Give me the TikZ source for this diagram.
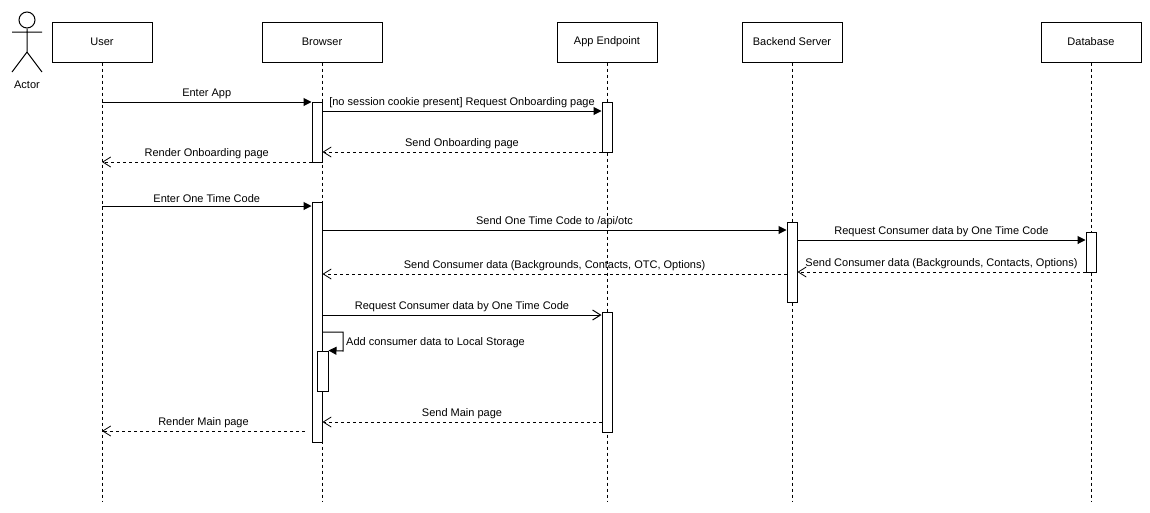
\documentclass[tikz,border=0pt]{standalone}
\usepackage{fontspec}
\setmainfont{Liberation Sans}
\usetikzlibrary{arrows.meta}

\tikzset{
  party/.style={draw,fill=white,line width=1pt,minimum height=40pt,inner sep=0pt},
  bar/.style={draw,fill=white,line width=1pt,minimum width=10pt,inner sep=0pt},
  lifeline/.style={line width=1pt,dash pattern=on 3pt off 3pt},
  call/.style={line width=1pt,-{Triangle[length=8pt,width=8pt]}},
  opencall/.style={line width=1pt,-{Straight Barb[length=8pt,width=10pt]}},
  reply/.style={line width=1pt,dash pattern=on 3pt off 3pt,-{Straight Barb[length=8pt,width=10pt,line width=.8pt]}},
  lbl/.style={midway,above,inner sep=0pt,yshift=3pt}
}

\begin{document}
\begin{tikzpicture}[x=1pt,y=-1pt,font=\fontsize{11}{13}\selectfont]
  \useasboundingbox (0,0) rectangle (1150,512);

  % actor
  \node (head) [draw,circle,line width=1pt,minimum size=16pt,inner sep=0pt] at (27,20) {};
  \coordinate (hip) at (27,52);
  \coordinate (armL) at (12,32);
  \coordinate (armR) at (42,32);
  \coordinate (footL) at (12,72);
  \coordinate (footR) at (42,72);
  \draw[line width=1pt] (head) -- (hip) (armL) -- (armR) (footL) -- (hip) -- (footR);
  \node (actor) at (27,85) {Actor};

  % parties
  \node (user) [party,minimum width=100pt] at (102,42) {User};
  \node (browser) [party,minimum width=120pt] at (322,42) {Browser};
  \node (app) [party,minimum width=100pt] at (607,42) {App Endpoint};
  \node (backend) [party,minimum width=100pt] at (792,42) {Backend Server};
  \node (database) [party,minimum width=100pt] at (1091,42) {Database};

  % lifelines
  \foreach \p in {user,browser,app,backend,database}
    \draw[lifeline] (\p.south) -- (\p |- 0,502);

  % activations
  \node (brA) [bar,minimum height=60pt] at (317,132) {};
  \node (brB) [bar,minimum height=240pt] at (317,322) {};
  \node (brC) [bar,minimum width=11pt,minimum height=40pt] at (322.5,371) {};
  \node (appA) [bar,minimum height=50pt] at (607,127) {};
  \node (appB) [bar,minimum height=120pt] at (607,372) {};
  \node (backA) [bar,minimum height=80pt] at (792,262) {};
  \node (dbA) [bar,minimum height=40pt] at (1091,252) {};

  % messages
  \draw[call] (user |- 0,102) -- node[lbl] {Enter App} (brA.west |- 0,102);
  \draw[call] (brA.east |- 0,111) -- node[lbl] {[no session cookie present] Request Onboarding page} (appA.west |- 0,111);
  \draw[reply] (appA.west |- 0,152) -- node[lbl] {Send Onboarding page} (brA.east |- 0,152);
  \draw[reply] (brA.west |- 0,162) -- node[lbl] {Render Onboarding page} (user |- 0,162);
  \draw[call] (user |- 0,206) -- node[lbl] {Enter One Time Code} (brB.west |- 0,206);
  \draw[call] (brB.east |- 0,230) -- node[lbl] {Send One Time Code to /api/otc} (backA.west |- 0,230);
  \draw[call] (backA.east |- 0,240) -- node[lbl] {Request Consumer data by One Time Code} (dbA.west |- 0,240);
  \draw[reply] (dbA.west |- 0,272) -- node[lbl] {Send Consumer data (Backgrounds, Contacts, Options)} (backA.east |- 0,272);
  \draw[reply] (backA.west |- 0,274) -- node[lbl] {Send Consumer data (Backgrounds, Contacts, OTC, Options)} (brB.east |- 0,274);
  \draw[opencall] (brB.east |- 0,315) -- node[lbl] {Request Consumer data by One Time Code} (appB.west |- 0,315);
  \draw[call] (brB.east |- 0,332) -- (343,332) -- (343,351) -- (brC.north east);
  \node (store) [anchor=west,inner sep=0pt] at (346,343) {Add consumer data to Local Storage};
  \draw[reply] (appB.west |- 0,422) -- node[lbl] {Send Main page} (brB.east |- 0,422);
  \coordinate (mainfrom) at (305,431);
  \draw[reply] (mainfrom) -- node[lbl] {Render Main page} (user |- mainfrom);
\end{tikzpicture}
\end{document}
